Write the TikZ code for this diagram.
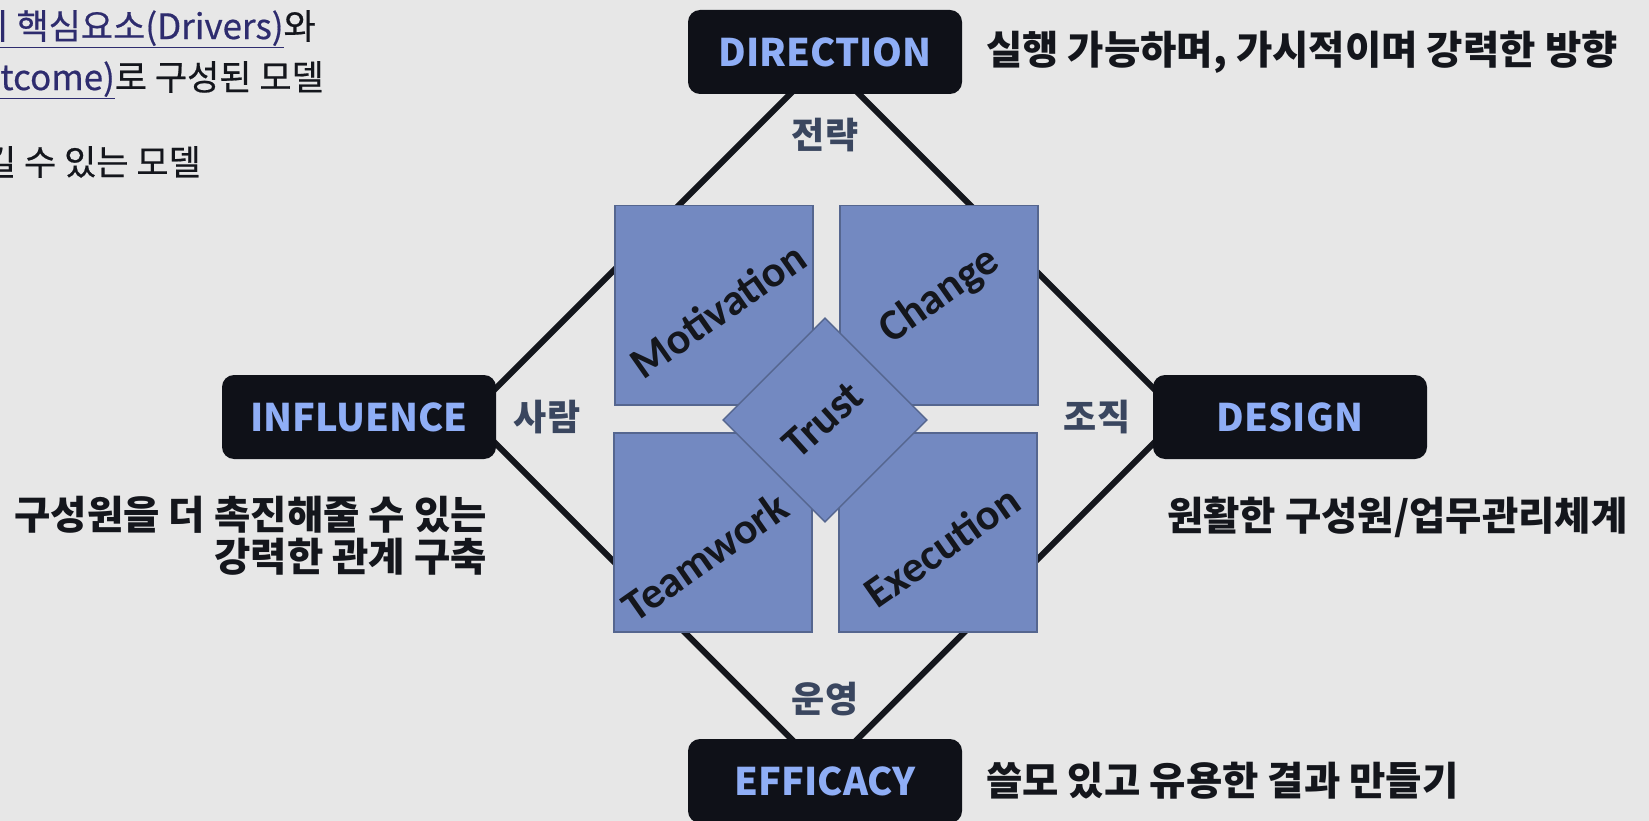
\documentclass[tikz,border=0pt]{standalone}
\usepackage{fontspec}
\setmainfont{Noto Sans CJK KR}
\newfontfamily\calfont{Carlito}
\newfontfamily\notefont[FakeBold=0.5]{Noto Sans CJK KR}
\definecolor{bg}{HTML}{E7E7E7}
\definecolor{boxdark}{HTML}{0F1118}
\definecolor{boxtext}{HTML}{8FAEF6}
\definecolor{sqfill}{HTML}{7389C1}
\definecolor{sqline}{HTML}{55668F}
\definecolor{lbl}{HTML}{3A465F}
\definecolor{linkc}{HTML}{2E2C6E}
\definecolor{ink}{HTML}{14161C}
\begin{document}
\begin{tikzpicture}[x=1pt,y=-1pt,
  pillar/.style={fill=boxdark, rounded corners=12pt, minimum width=274pt, minimum height=84pt, inner sep=0pt, text=boxtext, font=\fontsize{38}{40}\selectfont\bfseries},
  sq/.style={draw=sqline, line width=1.5pt, fill=sqfill, minimum width=198pt, minimum height=199pt, inner sep=0pt, anchor=north west},
  sqtext/.style={font=\calfont\bfseries\fontsize{44}{44}\selectfont, text=ink, rotate=35, inner sep=0pt},
  axislbl/.style={font=\bfseries\fontsize{36}{36}\selectfont, text=lbl, inner sep=0pt},
  desc/.style={font=\bfseries\fontsize{39.5}{42}\selectfont, text=ink, inner sep=0pt},
  note/.style={font=\notefont\fontsize{35}{36}\selectfont, text=ink, inner sep=0pt, anchor=east},
  edgeline/.style={line width=6pt, draw=ink}
]
\fill[bg] (0,0) rectangle (1649,821);
\useasboundingbox (0,0) rectangle (1649,821);

% diamond frame
\coordinate (vt) at (824.5,59.5);
\coordinate (vl) at (468,416);
\coordinate (vr) at (1181,416);
\coordinate (vb) at (824.5,772);
\draw[edgeline] (vt) -- (vl) -- (vb) -- (vr) -- cycle;

% squares
\node[sq] (mot) at (614,205) {};
\node[sq] (chg) at (839,205) {};
\node[sq] (tmw) at (613,432) {};
\node[sq] (exe) at (838,432) {};
\node[draw=sqline, line width=1.5pt, fill=sqfill, minimum size=144pt, inner sep=0pt, rotate=45] (trust) at (825,420) {};

\node[sqtext] (tmot) at (718,310) {Motivation};
\node[sqtext] (tchg) at (940,296) {Change};
\node[sqtext] (ttmw) at (705,556) {Teamwork};
\node[sqtext] (texe) at (942,546) {Execution};
\node[sqtext, rotate=7] (ttrust) at (823,420) {Trust};

% axis labels
\node[axislbl] (l1) at (825,135) {전략};
\node[axislbl] (l2) at (547,417) {사람};
\node[axislbl] (l3) at (1097,417) {조직};
\node[axislbl] (l4) at (825,699) {운영};

% pillars
\node[pillar] (dir) at (825,52) {DIRECTION};
\node[pillar] (inf) at (359,417) {INFLUENCE};
\node[pillar] (des) at (1290,417) {DESIGN};
\node[pillar] (eff) at (825,781) {EFFICACY};

% descriptions
\node[desc, anchor=west] (ddir) at (986,52) {실행 가능하며, 가시적이며 강력한 방향};
\node[desc, anchor=west] (ddes) at (1167,517) {원활한 구성원/업무관리체계};
\node[desc, anchor=west] (deff) at (986,781) {쓸모 있고 유용한 결과 만들기};
\node[desc, anchor=east, align=right] (dinf) at (487,536) {구성원을 더 촉진해줄 수 있는\\강력한 관계 구축};

% top-left note (clipped at left edge)
\node[note] (n1) at (316,29) {{\color{linkc}\underline{의 핵심요소(Drivers)}}와};
\node[note] (n2) at (324,80) {{\color{linkc}\underline{(Outcome)}}로 구성된 모델};
\node[note] (n3) at (201,162) {길 수 있는 모델};
\end{tikzpicture}
\end{document}
